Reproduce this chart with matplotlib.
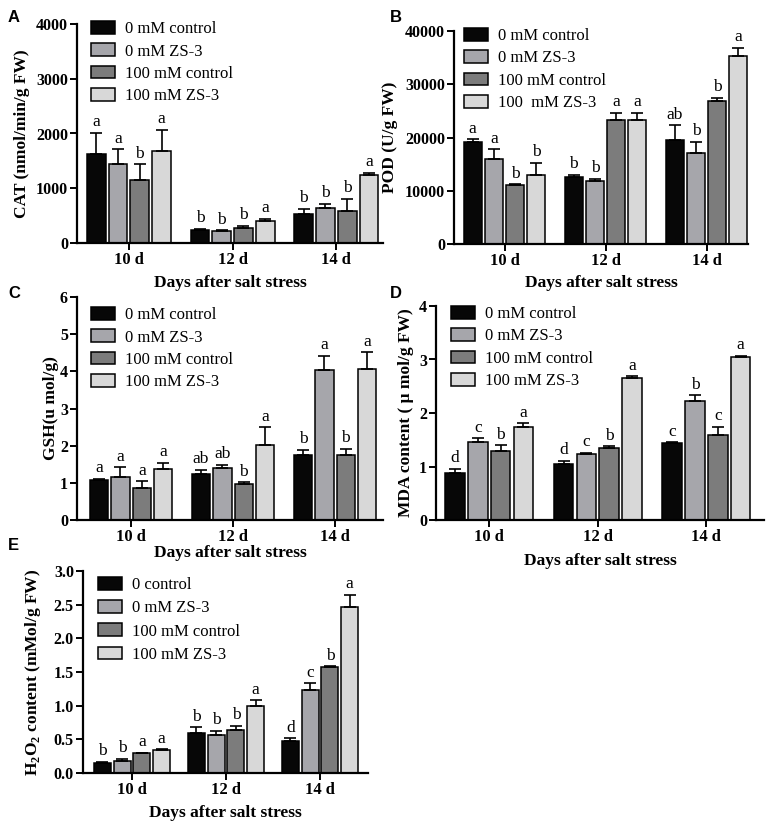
import numpy as np
import matplotlib
matplotlib.use("Agg")
import matplotlib.pyplot as plt

plt.rcParams['font.family'] = ['Liberation Serif', 'DejaVu Serif']
plt.rcParams['mathtext.fontset'] = 'custom'
plt.rcParams['mathtext.rm'] = 'Liberation Serif:bold'
plt.rcParams['mathtext.bf'] = 'Liberation Serif:bold'

days = ['10 d', '12 d', '14 d']
colors = ['#070707', '#a6a6ab', '#7c7c7c', '#d8d8d8']
legend_std = ['0 mM control', '0 mM ZS-3', '100 mM control', '100 mM ZS-3']
legend_b = ['0 mM control', '0 mM ZS-3', '100 mM control', '100  mM ZS-3']
legend_e = ['0 control', '0 mM ZS-3', '100 mM control', '100 mM ZS-3']

# rows = treatments, columns = days
cat_mean = [[1620, 230, 525], [1450, 212, 645], [1150, 275, 585], [1685, 400, 1235]]
cat_err = [[390, 25, 100], [260, 18, 75], [285, 35, 225], [380, 40, 50]]
cat_let = [['a', 'b', 'b'], ['a', 'b', 'b'], ['b', 'b', 'b'], ['a', 'a', 'a']]

pod_mean = [[19200, 12500, 19500], [15900, 11800, 17000], [11050, 23200, 26900], [12950, 23200, 35350]]
pod_err = [[500, 500, 2800], [1900, 450, 2200], [200, 1400, 600], [2300, 1400, 1500]]
pod_let = [['a', 'b', 'ab'], ['a', 'b', 'b'], ['b', 'a', 'b'], ['b', 'a', 'a']]

gsh_mean = [[1.07, 1.25, 1.74], [1.15, 1.39, 4.03], [0.86, 0.96, 1.75], [1.36, 2.03, 4.07]]
gsh_err = [[0.04, 0.10, 0.15], [0.27, 0.10, 0.38], [0.18, 0.05, 0.16], [0.17, 0.46, 0.44]]
gsh_let = [['a', 'ab', 'b'], ['a', 'ab', 'a'], ['a', 'b', 'b'], ['a', 'a', 'a']]

mda_mean = [[0.88, 1.05, 1.44], [1.46, 1.23, 2.23], [1.29, 1.34, 1.59], [1.74, 2.65, 3.04]]
mda_err = [[0.08, 0.06, 0.01], [0.07, 0.03, 0.10], [0.11, 0.04, 0.15], [0.07, 0.04, 0.03]]
mda_let = [['d', 'd', 'c'], ['c', 'c', 'b'], ['b', 'b', 'c'], ['a', 'a', 'a']]

h2o2_mean = [[0.15, 0.59, 0.47], [0.18, 0.56, 1.23], [0.29, 0.64, 1.57], [0.34, 1.00, 2.47]]
h2o2_err = [[0.015, 0.09, 0.045], [0.03, 0.065, 0.10], [0.01, 0.06, 0.02], [0.01, 0.08, 0.18]]
h2o2_let = [['b', 'b', 'd'], ['b', 'b', 'c'], ['a', 'b', 'b'], ['a', 'a', 'a']]

W, H = 767, 824
fig = plt.figure(figsize=(W / 100, H / 100), dpi=100)


def px_axes(l, t, r, b):
    return fig.add_axes([l / W, 1 - b / H, (r - l) / W, (b - t) / H])


def panel(box, means, errs, lets, ylim, yticks, ylabel, labels, xlim, letter,
          letter_pos, leg_pos, ylabel_x, xlabel_y, fmt='{:.0f}',
          width=0.18, step=0.21, leg_space=0.37):
    ax = px_axes(*box)
    x = np.arange(len(days))
    top = ylim[1]
    for i in range(4):
        pos = x + (i - 1.5) * step
        m = np.array(means[i], dtype=float)
        e = np.array(errs[i], dtype=float)
        ax.bar(pos, m, width, color=colors[i], edgecolor='black', linewidth=1.1,
               label=labels[i], zorder=2)
        ax.errorbar(pos, m, yerr=[np.zeros_like(e), e], fmt='none', ecolor='black',
                    elinewidth=1.2, capsize=4, capthick=1.2, zorder=3)
        for xi, yi, t in zip(pos, m + e, lets[i]):
            ax.text(xi, yi + top * 0.012, t, ha='center', va='bottom', fontsize=12.5)
    ax.set_xlim(*xlim)
    ax.set_ylim(*ylim)
    ax.set_yticks(yticks)
    ax.set_yticklabels([fmt.format(v) for v in yticks], fontweight='bold', fontsize=11.5)
    ax.set_xticks(x)
    ax.set_xticklabels(days, fontweight='bold', fontsize=12)
    for s in ['top', 'right']:
        ax.spines[s].set_visible(False)
    for s in ['left', 'bottom']:
        ax.spines[s].set_linewidth(1.6)
    ax.tick_params(axis='both', width=1.4, length=5, direction='out', pad=1.5)
    l, t, r, b = box
    ax.set_xlabel('Days after salt stress', fontweight='bold', fontsize=12.5)
    ax.xaxis.label.set_va('center')
    ax.xaxis.set_label_coords(0.5, (b - xlabel_y) / (b - t))
    ax.set_ylabel(ylabel, fontweight='bold', fontsize=12.5)
    ax.yaxis.label.set_va('center')
    ax.yaxis.set_label_coords((ylabel_x - l) / (r - l), 0.5)
    ax.legend(loc='upper left', bbox_to_anchor=(leg_pos[0] / W, 1 - (leg_pos[1] - 6) / H),
              bbox_transform=fig.transFigure, frameon=False,
              fontsize=12, handlelength=1.45, handleheight=0.8, handletextpad=0.6,
              labelspacing=leg_space, borderaxespad=0, borderpad=0)
    fig.text(letter_pos[0] / W, 1 - letter_pos[1] / H, letter, family='Liberation Sans',
             fontweight='bold', fontsize=12, ha='left', va='center')
    return ax


panel((77, 24, 383, 243), cat_mean, cat_err, cat_let, (0, 4000),
      [0, 1000, 2000, 3000, 4000], 'CAT (nmol/min/g FW)', legend_std,
      (-0.5, 2.45), 'A', (8, 17), (91, 27), 22, 283)
panel((454, 31, 748, 244), pod_mean, pod_err, pod_let, (0, 40000),
      [0, 10000, 20000, 30000, 40000], 'POD (U/g FW)', legend_b,
      (-0.5, 2.41), 'B', (390, 17), (464, 34), 390, 283)
panel((77, 297, 383, 520), gsh_mean, gsh_err, gsh_let, (0, 6),
      [0, 1, 2, 3, 4, 5, 6], 'GSH(u mol/g)', legend_std,
      (-0.53, 2.47), 'C', (8, 294), (91, 313), 51, 553)
panel((436, 306, 764, 520), mda_mean, mda_err, mda_let, (0, 4),
      [0, 1, 2, 3, 4], 'MDA content ( μ mol/g FW)', legend_std,
      (-0.49, 2.53), 'D', (390, 294), (451, 312), 406, 561)
panel((83, 571, 368, 773), h2o2_mean, h2o2_err, h2o2_let, (0, 3.0),
      [0, 0.5, 1.0, 1.5, 2.0, 2.5, 3.0], r'H$_2$O$_2$ content (mMol/g FW)', legend_e,
      (-0.52, 2.51), 'E', (8, 545), (98, 583), 33, 813, fmt='{:.1f}', leg_space=0.42)

fig.savefig('out.png', dpi=100)
